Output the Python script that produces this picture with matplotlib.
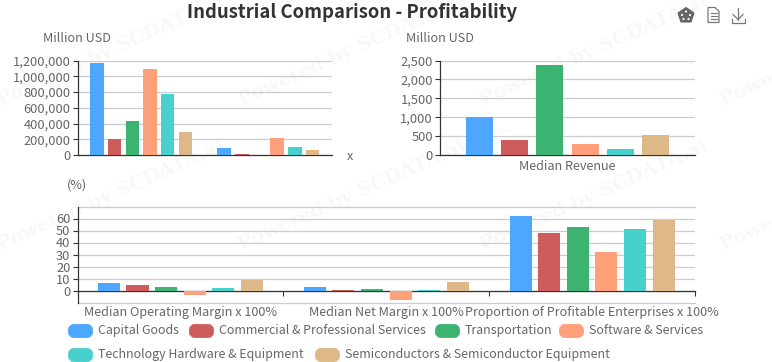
import matplotlib
matplotlib.use("Agg")
import matplotlib.pyplot as plt
from matplotlib.patches import FancyBboxPatch, Polygon, Circle
from matplotlib.ticker import FuncFormatter

W = 772
H = 362

plt.rcParams['font.family'] = ['Noto Sans CJK SC', 'DejaVu Sans']

sectors = ["Capital Goods", "Commercial & Professional Services", "Transportation",
           "Software & Services", "Technology Hardware & Equipment",
           "Semiconductors & Semiconductor Equipment"]
colors = ["#4DA6FF", "#CD5C5C", "#3CB371", "#FFA07A", "#48D1CC", "#DEB887"]

# top left, million USD (the two categories have no visible labels)
market_cap = [1170000, 205000, 430000, 1090000, 775000, 295000]
total_revenue = [85000, 15000, 6000, 215000, 100000, 65000]

# top right, million USD
median_revenue = [1000, 410, 2370, 300, 170, 540]

# bottom, percent
bottom_labels = ["Median Operating Margin x 100%", "Median Net Margin x 100%",
                 "Proportion of Profitable Enterprises x 100%"]
operating_margin = [6.5, 4.2, 3.0, -3.5, 2.5, 8.5]
net_margin = [3.2, 0.5, 1.0, -8.0, 0.8, 6.8]
profitable = [62, 48, 53, 32.5, 51, 59]

TEXT = "#666666"
AXIS = "#333333"
GRID = "#cccccc"
TICK_SIZE = 9.3
LABEL_SIZE = 9.1
LEGEND_SIZE = 8.95

fig = plt.figure(figsize=(W / 100, H / 100), dpi=100, facecolor="white")


def pixel_axes(left, top, right, bottom):
    return fig.add_axes([left / W, 1 - bottom / H, (right - left) / W, (bottom - top) / H])


def draw_bars(ax, groups, pitch=0.139, width=0.106):
    for i in range(len(sectors)):
        xs = [g + (i - 2.5) * pitch for g in range(len(groups))]
        ax.bar(xs, [g[i] for g in groups], width=width, color=colors[i], linewidth=0, zorder=3)
    ax.set_xlim(-0.5, len(groups) - 0.5)
    ax.patch.set_alpha(0)
    ax.grid(axis="y", color=GRID, linewidth=0.9, zorder=1)
    ax.set_axisbelow(True)
    for side in ("top", "right"):
        ax.spines[side].set_visible(False)
    for side in ("left", "bottom"):
        ax.spines[side].set_color(AXIS)
        ax.spines[side].set_linewidth(0.9)
    ax.tick_params(axis="y", labelsize=TICK_SIZE, labelcolor=TEXT, color=AXIS,
                   length=3.6, width=0.8, pad=1.5)
    ax.yaxis.set_major_formatter(FuncFormatter(lambda v, p: f"{v:,.0f}"))


# watermark layer
bg = fig.add_axes([0, 0, 1, 1], zorder=-1)
bg.set_xlim(0, W)
bg.set_ylim(H, 0)
bg.axis("off")
for row_y in (105, 250):
    for col_x in (0, 241, 483, 723):
        bg.text(col_x, row_y, "Powered by SCDATA.ai", family="DejaVu Serif", weight="bold",
                fontsize=14, color="#f8f8f8", rotation=24, rotation_mode="anchor",
                ha="left", va="baseline", clip_on=True)

# top left
ax1 = pixel_axes(77.5, 60.5, 332, 155)
draw_bars(ax1, [market_cap, total_revenue])
ax1.set_ylim(0, 1200000)
ax1.set_yticks(range(0, 1200001, 200000))
ax1.set_xticks([])

# top right
ax2 = pixel_axes(440, 60.5, 695, 155)
draw_bars(ax2, [median_revenue], pitch=0.1385, width=0.107)
ax2.set_ylim(0, 2500)
ax2.set_yticks(range(0, 2501, 500))
ax2.set_xticks([0])
ax2.set_xticklabels(["Median Revenue"], fontsize=LABEL_SIZE, color=TEXT)
ax2.tick_params(axis="x", length=0, pad=3.6)

# bottom
ax3 = pixel_axes(77.5, 206.5, 695, 302.5)
draw_bars(ax3, [operating_margin, net_margin, profitable], pitch=0.139, width=0.107)
ax3.set_ylim(-10, 70)
ax3.set_yticks(range(0, 61, 10))
for grid_y in (-10, 70):
    ax3.axhline(grid_y, color=GRID, linewidth=0.9, zorder=1, clip_on=False)
ax3.spines["bottom"].set_position(("data", 0))
ax3.set_xticks([0.5, 1.5, 2.5])
ax3.set_xticklabels([])
ax3.tick_params(axis="x", which="major", direction="out", length=3.6, width=0.8, color=AXIS)
ax3.set_xticks([0, 1, 2], minor=True)
ax3.set_xticklabels(bottom_labels, minor=True, fontsize=LABEL_SIZE, color=TEXT)
ax3.tick_params(axis="x", which="minor", length=0, pad=11.5)

# title, axis names, legend and toolbox drawn in pixel coordinates
top = fig.add_axes([0, 0, 1, 1], zorder=5)
top.set_xlim(0, W)
top.set_ylim(H, 0)
top.axis("off")
top.text(352.5, 13, "Industrial Comparison - Profitability", fontsize=13.3, weight="bold",
         color="#333333", ha="center", va="center")
top.text(77, 38.5, "Million USD", fontsize=LABEL_SIZE, color=TEXT, ha="center", va="center")
top.text(440, 38.5, "Million USD", fontsize=LABEL_SIZE, color=TEXT, ha="center", va="center")
top.text(77, 185, "(%)", fontsize=LABEL_SIZE, color=TEXT, ha="center", va="center")
top.text(350, 156, "x", fontsize=LABEL_SIZE, color=TEXT, ha="center", va="center")

legend_x = [68, 189, 435, 559, 68, 315]
legend_y = [331, 331, 331, 331, 355, 355]
for name, color, lx, ly in zip(sectors, colors, legend_x, legend_y):
    top.add_patch(FancyBboxPatch((lx + 3, ly - 4), 19, 8, boxstyle="round,pad=0,rounding_size=3",
                                 mutation_aspect=1, facecolor=color, edgecolor=color,
                                 linewidth=4.2, clip_on=True))
    top.text(lx + 30, ly + 3, name, fontsize=LEGEND_SIZE, color=TEXT, ha="left", va="baseline")

# toolbox icons
top.add_patch(Polygon([(686, 7.5), (694, 13), (691, 22), (681, 22), (678, 13)],
                      closed=True, facecolor="#666666", edgecolor="#666666", linewidth=0.8))
for cx, cy in [(686, 11.5), (690, 15), (688.5, 19), (683.5, 19), (682, 15)]:
    top.add_patch(Circle((cx, cy), 1.1, facecolor="white", edgecolor="none"))
top.add_patch(Polygon([(708, 7.5), (715, 7.5), (719, 11.5), (719, 22.5), (708, 22.5)],
                      closed=True, facecolor="none", edgecolor="#777777", linewidth=0.9))
for ly in (12.5, 15.5, 18.5):
    top.plot([710.5, 716.5], [ly, ly], color="#777777", linewidth=0.8)
top.plot([738, 738], [8, 19.5], color="#777777", linewidth=0.9)
top.plot([733, 738, 743], [14.5, 19.5, 14.5], color="#777777", linewidth=0.9)
top.plot([731.5, 731.5, 744.5, 744.5], [19, 22.5, 22.5, 19], color="#777777", linewidth=0.9)

fig.savefig("out.png", dpi=100)
